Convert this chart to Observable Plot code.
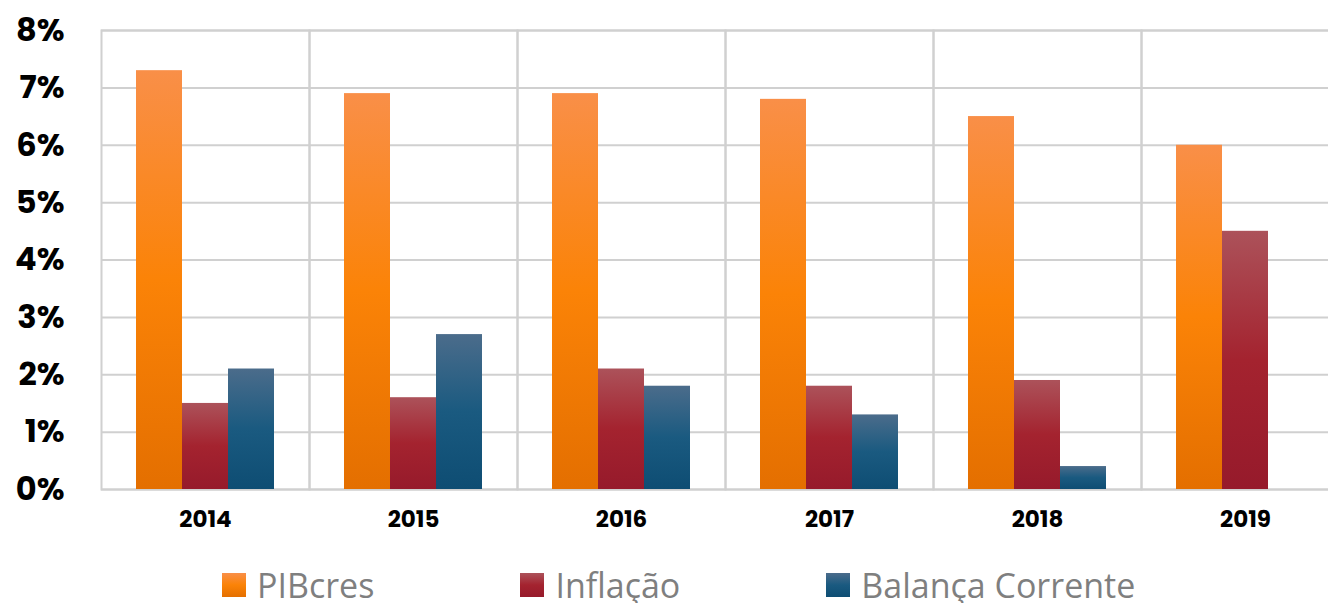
<!DOCTYPE html>
<html>
<head>
<meta charset="utf-8">
<script src="https://cdn.jsdelivr.net/npm/d3@7"></script>
<script src="https://cdn.jsdelivr.net/npm/@observablehq/plot@0.6"></script>
<style>
  html, body { margin: 0; padding: 0; background: #fff; overflow: hidden; }
  #wrap { width: 1328px; height: 603px; overflow: hidden; position: relative; }
  #legend { position: relative; height: 36px; padding-top: 22px; display: flex; align-items: center; padding-left: 222px;
            font-family: "Open Sans", sans-serif; font-size: 34px; line-height: 1; color: #7f7f7f; white-space: nowrap; }
  .item { display: flex; align-items: center; margin-right: 146px; line-height: 1; }
  .sw { width: 24px; height: 24px; margin-right: 11px; }
</style>
</head>
<body>
<div id="wrap"><div id="chart"></div><div id="legend"></div></div>
<script>
const years = ["2014", "2015", "2016", "2017", "2018", "2019"];
const seriesNames = ["PIBcres", "Inflação", "Balança Corrente"];
const pibcres = [7.3, 6.9, 6.9, 6.8, 6.5, 6.0];
const inflacao = [1.5, 1.6, 2.1, 1.8, 1.9, 4.5];
const balancaCorrente = [2.1, 2.7, 1.8, 1.3, 0.4, null];
const yTicks = [0, 1, 2, 3, 4, 5, 6, 7, 8];

const gradients = {
  "PIBcres": {id: "gPIB", stops: [["0%", "#f98f48"], ["50%", "#fb8307"], ["100%", "#e46f00"]]},
  "Inflação": {id: "gInf", stops: [["0%", "#ac525a"], ["50%", "#a4232f"], ["100%", "#961a2b"]]},
  "Balança Corrente": {id: "gBal", stops: [["0%", "#4b6c8b"], ["50%", "#1a5a80"], ["100%", "#0e4d73"]]}
};

const seriesValues = [pibcres, inflacao, balancaCorrente];
const data = [];
seriesNames.forEach((s, si) => {
  years.forEach((y, yi) => {
    const v = seriesValues[si][yi];
    if (v != null) data.push({year: y, series: s, value: v});
  });
});

const W = 1350, H = 545;
const plot = Plot.plot({
  width: W,
  height: H,
  marginLeft: 99,
  marginRight: 0,
  marginTop: 30,
  marginBottom: 56,
  style: {maxWidth: "none", background: "#fff"},
  fx: {domain: years, padding: 0, label: null},
  x: {domain: seriesNames, paddingInner: 0, paddingOuter: 0.73, axis: null},
  y: {domain: [0, 8], axis: null},
  marks: [
    Plot.ruleY(yTicks, {stroke: "#d0d0d0", strokeWidth: 2}),
    Plot.frame({stroke: "#d0d0d0", strokeWidth: 2}),
    ...seriesNames.map(s => Plot.barY(data.filter(d => d.series === s), {
      fx: "year", x: "series", y: "value", fill: `url(#${gradients[s].id})`, inset: 0
    })),
    Plot.axisY(yTicks, {tickSize: 0, tickPadding: 37, tickFormat: d => d + "%", fontSize: 32, fontWeight: 700,
      fontFamily: "Poppins, Roboto, sans-serif", fill: "#000", label: null}),
    Plot.axisFx({anchor: "bottom", tickSize: 0, tickPadding: 21, fontSize: 23, fontWeight: 700,
      fontFamily: "Poppins, Roboto, sans-serif", fill: "#000", label: null})
  ]
});

const svg = d3.select(plot);
const defs = svg.insert("defs", ":first-child");
for (const s of seriesNames) {
  const g = defs.append("linearGradient").attr("id", gradients[s].id)
    .attr("x1", 0).attr("y1", 0).attr("x2", 0).attr("y2", 1);
  for (const [o, c] of gradients[s].stops) g.append("stop").attr("offset", o).attr("stop-color", c);
}
document.getElementById("chart").appendChild(plot);

const legend = d3.select("#legend");
for (const s of seriesNames) {
  const st = gradients[s].stops;
  const it = legend.append("div").attr("class", "item");
  it.append("div").attr("class", "sw")
    .style("background", `linear-gradient(to bottom, ${st[0][1]}, ${st[1][1]} 50%, ${st[2][1]})`);
  it.append("span").text(s);
}
</script>
</body>
</html>
